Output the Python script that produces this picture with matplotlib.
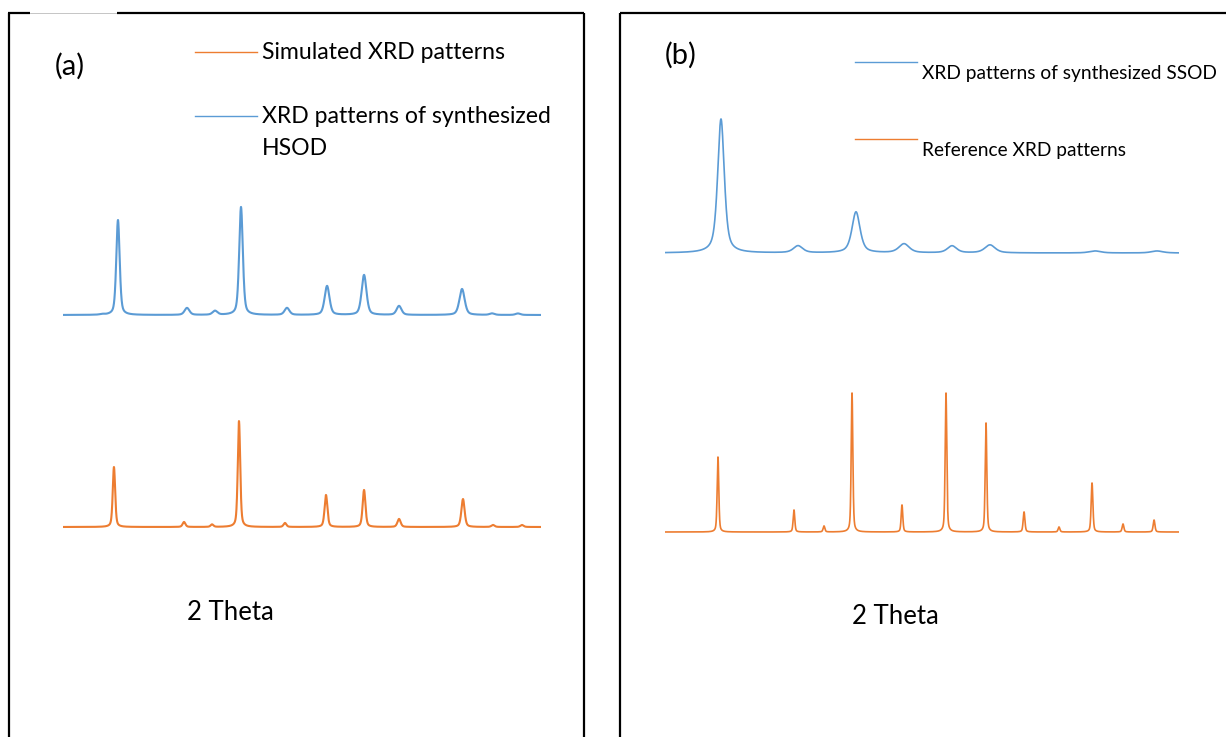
import numpy as np
import matplotlib
matplotlib.use("Agg")
import matplotlib.pyplot as plt

# ---------------- data (peak lists) ----------------
# Panel (a): 2-theta positions (deg), intensities (a.u.), FWHM (deg)
a_sim_pos = [10.33, 17.66, 20.59, 23.41, 28.22, 32.51, 36.49, 40.15, 46.84, 49.98, 53.01]
a_sim_int = [60, 5, 2.5, 106, 4, 32, 37, 8, 28, 2, 2]
a_sim_fwhm = [0.3, 0.35, 0.35, 0.3, 0.35, 0.35, 0.35, 0.4, 0.4, 0.4, 0.4]

a_syn_pos = [9.08, 10.75, 17.97, 20.90, 23.62, 28.43, 32.62, 36.49, 40.15, 46.74, 49.88, 52.59]
a_syn_int = [0.6, 95, 7, 4, 108, 7, 29, 40, 9, 26, 1.5, 1.5]
a_syn_fwhm = [0.5, 0.42, 0.6, 0.6, 0.45, 0.6, 0.6, 0.6, 0.6, 0.65, 0.6, 0.6]

# Panel (b)
b_syn_pos = [13.17, 24.41, 32.87, 39.88, 46.88, 52.42, 67.75, 76.79]
b_syn_int = [134, 7, 41, 9, 7, 8, 2, 2]
b_syn_fwhm = [1.15, 1.6, 1.4, 1.8, 1.6, 1.8, 2.0, 2.0]

b_ref_pos = [12.73, 23.82, 28.20, 32.29, 39.58, 46.00, 51.84, 57.39, 62.49, 67.31, 71.83, 76.36]
b_ref_int = [75, 22, 6, 139, 27, 139, 109, 20, 5, 49, 8, 12]
b_ref_fwhm = [0.28, 0.28, 0.3, 0.28, 0.28, 0.28, 0.28, 0.3, 0.3, 0.3, 0.3, 0.3]

a_range = (5, 55)
b_range = (5, 80)

labels_a = ["Simulated XRD patterns", "XRD patterns of synthesized\nHSOD"]
labels_b = ["XRD patterns of synthesized SSOD", "Reference XRD patterns"]
xlabel = "2 Theta"

BLUE = "#5B9BD5"
ORANGE = "#ED7D31"


def profile(x, pos, inten, fwhm, eta=0.45):
    y = np.zeros_like(x)
    for p, h, w in zip(pos, inten, fwhm):
        g = np.exp(-4 * np.log(2) * ((x - p) / w) ** 2)
        l = 1.0 / (1.0 + 4 * ((x - p) / w) ** 2)
        y += h * (eta * l + (1 - eta) * g)
    return y


W, H = 1226, 737
fig = plt.figure(figsize=(W / 100, H / 100), dpi=100)
plt.rcParams['font.family'] = ['Lato', 'DejaVu Sans']

# background axes in pixel coordinates for frames / texts
bg = fig.add_axes([0, 0, 1, 1])
bg.set_xlim(0, W)
bg.set_ylim(H, 0)
bg.axis("off")

k = dict(color="black", lw=1.6, solid_capstyle="butt")
# panel (a) frame
bg.plot([9, 9], [12.5, H + 5], **k)
bg.plot([8, 30], [12.5, 12.5], **k)
bg.plot([30, 117], [12.5, 12.5], color="#bbbbbb", lw=0.6)
bg.plot([117, 584], [12.5, 12.5], **k)
bg.plot([584, 584], [12.5, H + 5], **k)
# panel (b) frame
bg.plot([620, 620], [12.5, H + 5], **k)
bg.plot([620, W + 5], [12.5, 12.5], **k)


def px_axes(x0, x1, y0, y1):
    return fig.add_axes([x0 / W, 1 - y1 / H, (x1 - x0) / W, (y1 - y0) / H])


# ---- panel (a) data axes: y-units = pixels above y=560
axa = px_axes(63, 541, 100, 560)
xa = np.linspace(a_range[0], a_range[1], 4000)
axa.plot(xa, profile(xa, a_syn_pos, a_syn_int, a_syn_fwhm) + 245, color=BLUE, lw=1.5)
axa.plot(xa, profile(xa, a_sim_pos, a_sim_int, a_sim_fwhm) + 33, color=ORANGE, lw=1.5)
axa.set_xlim(*a_range)
axa.set_ylim(0, 460)
axa.axis("off")

# ---- panel (b) data axes
axb = px_axes(665, 1179, 100, 560)
xb = np.linspace(b_range[0], b_range[1], 5000)
axb.plot(xb, profile(xb, b_syn_pos, b_syn_int, b_syn_fwhm, eta=0.6) + 307, color=BLUE, lw=1.2)
axb.plot(xb, profile(xb, b_ref_pos, b_ref_int, b_ref_fwhm) + 28, color=ORANGE, lw=1.2)
axb.set_xlim(*b_range)
axb.set_ylim(0, 460)
axb.axis("off")

# ---- legends / labels
bg.plot([195, 257], [52, 52], color=ORANGE, lw=1.0)
bg.text(262, 52, labels_a[0], fontsize=16.6, va="center", ha="left")
bg.plot([195, 257], [116, 116], color=BLUE, lw=1.0)
bg.text(262, 116, labels_a[1].split("\n")[0], fontsize=16.6, va="center", ha="left")
bg.text(262, 148, labels_a[1].split("\n")[1], fontsize=16.6, va="center", ha="left")
bg.text(55, 66, "(a)", fontsize=21, va="center", ha="left")
bg.text(187, 612, xlabel, fontsize=18.5, va="center", ha="left")

bg.plot([855, 917], [62, 62], color=BLUE, lw=1.0)
bg.text(922, 73, labels_b[0], fontsize=13.8, va="center", ha="left")
bg.plot([855, 917], [139, 139], color=ORANGE, lw=1.0)
bg.text(922, 150, labels_b[1], fontsize=13.8, va="center", ha="left")
bg.text(665, 55, "(b)", fontsize=21, va="center", ha="left")
bg.text(852, 616, xlabel, fontsize=18.5, va="center", ha="left")

fig.savefig("out.png", dpi=100)
